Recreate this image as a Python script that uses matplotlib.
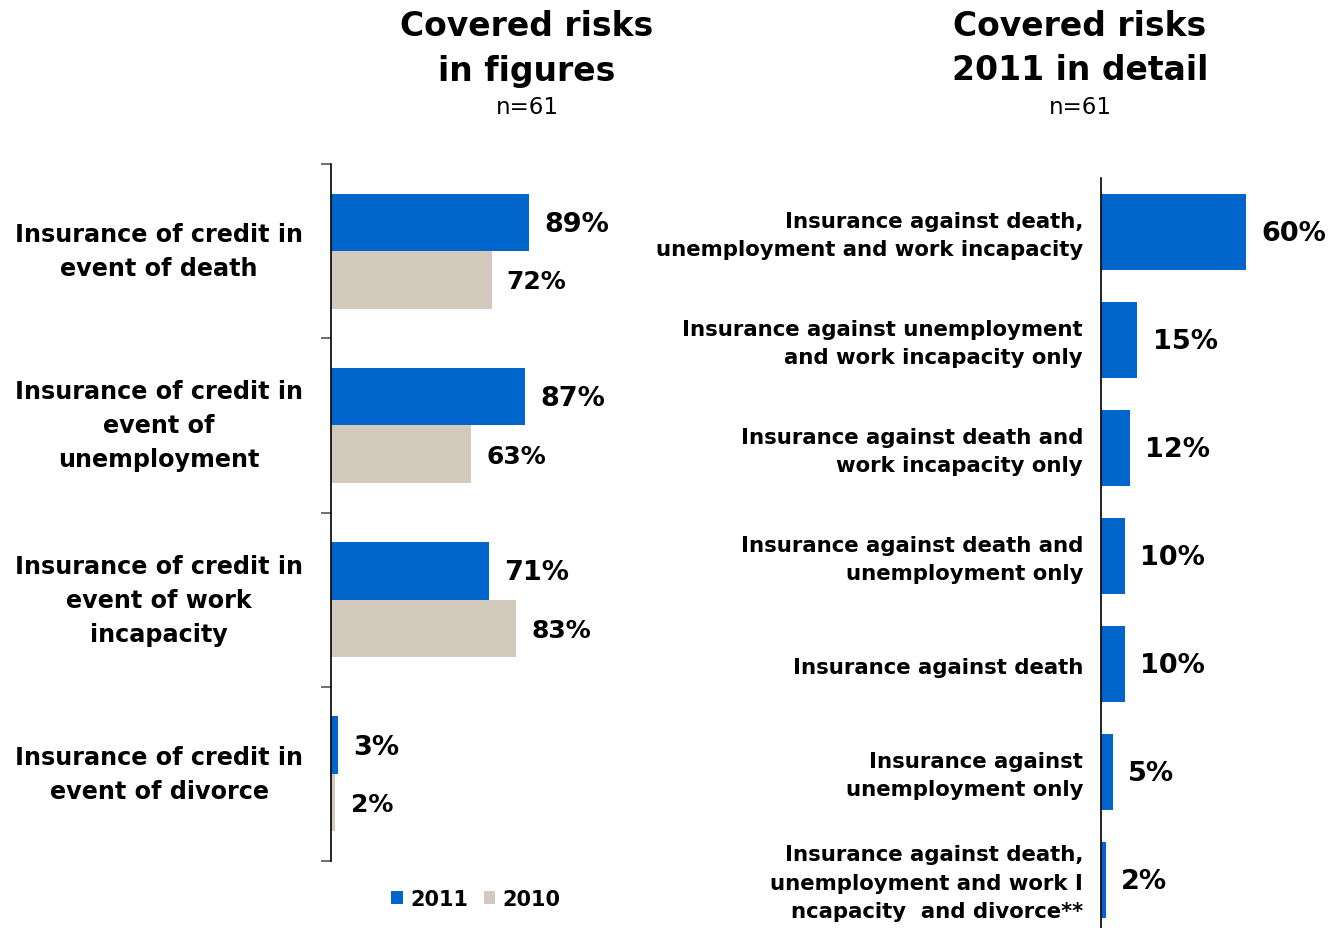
import matplotlib
matplotlib.use("Agg")
import matplotlib.pyplot as plt
import matplotlib.transforms as mtransforms
import numpy as np

# ---- data --------------------------------------------------------------------

left_categories = ["Insurance of credit in\nevent of death",
                   "Insurance of credit in\nevent of\nunemployment",
                   "Insurance of credit in\nevent of work\nincapacity",
                   "Insurance of credit in\nevent of divorce"]
values_2011 = [89, 87, 71, 3]
values_2010 = [72, 63, 83, 2]

right_categories = ["Insurance against death,\nunemployment and work incapacity",
                    "Insurance against unemployment\nand work incapacity only",
                    "Insurance against death and\nwork incapacity only",
                    "Insurance against death and\nunemployment only",
                    "Insurance against death",
                    "Insurance against\nunemployment only",
                    "Insurance against death,\nunemployment and work I\nncapacity  and divorce**"]
detail_2011 = [60, 15, 12, 10, 10, 5, 2]

blue = "#0066CC"
beige = "#D3CABD"

W, H = 1329, 929
fig = plt.figure(figsize=(W / 100, H / 100), dpi=100)

def px_axes(x0, y_top, width, y_bot):
    return fig.add_axes([x0 / W, 1 - y_bot / H, width / W, (y_bot - y_top) / H])

# ---- left panel: 2011 vs 2010 ------------------------------------------------

ax1 = px_axes(331, 165, 223, 862)
y = np.arange(len(left_categories))
bh = 0.33
ax1.barh(y - bh / 2, values_2011, height=bh, color=blue, label="2011")
ax1.barh(y + bh / 2, values_2010, height=bh, color=beige, label="2010")
ax1.set_xlim(0, 100)
ax1.set_ylim(len(left_categories) - 0.5, -0.5)
for s in ["top", "right", "bottom"]:
    ax1.spines[s].set_visible(False)
ax1.spines["left"].set_color("black")
ax1.spines["left"].set_linewidth(1.2)
ax1.set_xticks([])
ax1.set_yticks(np.arange(-0.5, len(left_categories), 1.0))
ax1.set_yticklabels([])
ax1.tick_params(axis="y", length=7, color="#555555", width=1.2)

for i, (a, b) in enumerate(zip(values_2011, values_2010)):
    ax1.annotate(f"{a}%", (a, i - bh / 2), xytext=(11, -1), textcoords="offset points",
                 ha="left", va="center", fontsize=19.5, fontweight="bold")
    ax1.annotate(f"{b}%", (b, i + bh / 2), xytext=(11, -1), textcoords="offset points",
                 ha="left", va="center", fontsize=18, fontweight="bold")

trans1 = mtransforms.blended_transform_factory(fig.transFigure, ax1.transData)
for i, lab in enumerate(left_categories):
    ax1.text(159 / W, i, lab, transform=trans1, ha="center", va="center",
             fontsize=17.2, fontweight="bold", linespacing=1.52)

leg = ax1.legend(loc="center", bbox_to_anchor=(476 / W, 1 - 900 / H),
                 bbox_transform=fig.transFigure, ncol=2, frameon=False,
                 prop={"weight": "bold", "size": 15}, handlelength=0.55,
                 handleheight=0.55, handletextpad=0.35, columnspacing=0.75)

# ---- right panel: 2011 in detail ---------------------------------------------

ax2 = px_axes(1101, 179, 242, 935)
y2 = np.arange(len(right_categories))
ax2.barh(y2, detail_2011, height=0.70, color=blue)
ax2.set_xlim(0, 100)
ax2.set_ylim(len(right_categories) - 0.5, -0.5)
for s in ["top", "right", "bottom"]:
    ax2.spines[s].set_visible(False)
ax2.spines["left"].set_linewidth(1.2)
ax2.set_xticks([])
ax2.set_yticks([])

for i, v in enumerate(detail_2011):
    ax2.annotate(f"{v}%", (v, i), xytext=(11, -1), textcoords="offset points",
                 ha="left", va="center", fontsize=19.5, fontweight="bold")

trans2 = mtransforms.blended_transform_factory(fig.transFigure, ax2.transData)
for i, lab in enumerate(right_categories):
    ax2.text(1083 / W, i + 0.025, lab, transform=trans2, ha="right", va="center",
             fontsize=15.3, fontweight="bold", linespacing=1.52)

# ---- titles ------------------------------------------------------------------

for xc, line1, line2 in [(527, "Covered risks", "in figures"),
                         (1080, "Covered risks", "2011 in detail")]:
    fig.text(xc / W, 1 - 26 / H, line1, ha="center", va="center",
             fontsize=23.8, fontweight="bold")
    fig.text(xc / W, 1 - 71 / H, line2, ha="center", va="center",
             fontsize=23.8, fontweight="bold")
    fig.text(xc / W, 1 - 108 / H, "n=61", ha="center", va="center", fontsize=16.5)

fig.savefig("out.png", dpi=100)
